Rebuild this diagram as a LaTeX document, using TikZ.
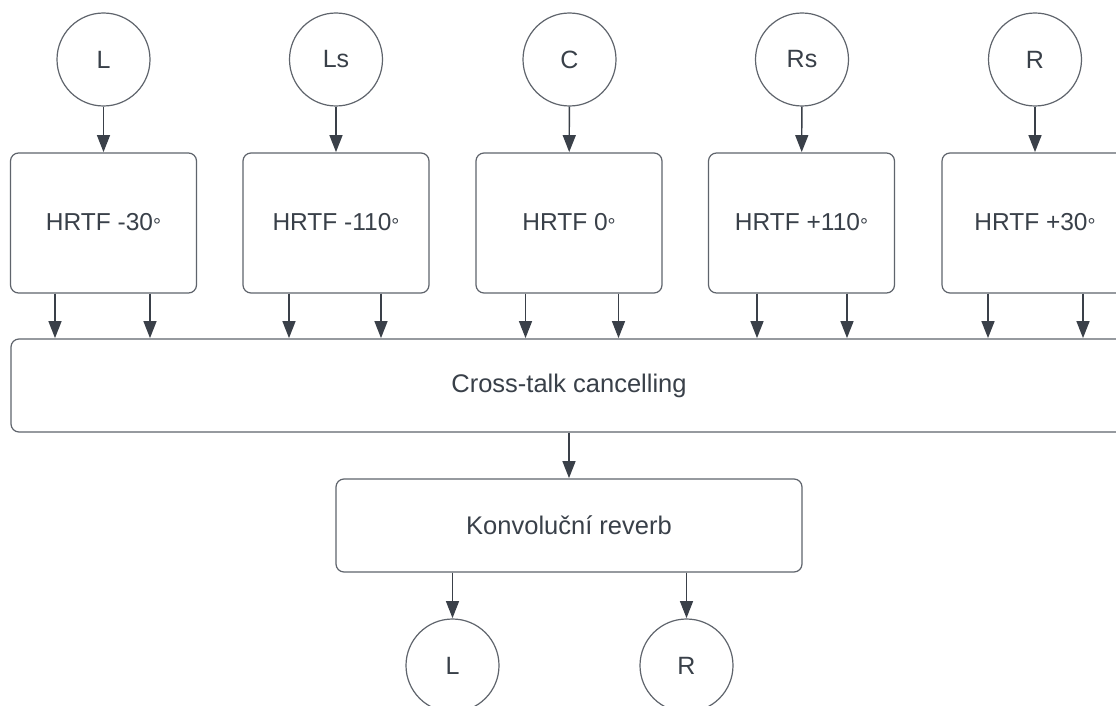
\documentclass[tikz,border=0pt]{standalone}
\usepackage{fontspec}
\setmainfont{Liberation Sans}
\usetikzlibrary{arrows.meta}
\definecolor{linec}{HTML}{5F646C}
\definecolor{arrc}{HTML}{3A4049}
\definecolor{txtc}{HTML}{394049}
\newcommand{\dg}{{\fontsize{20}{20}\selectfont\raisebox{-1.8pt}{°}}}
\begin{document}
\begin{tikzpicture}[x=1pt,y=-1pt,
  lbl/.style={text=txtc,font=\fontsize{25}{30}\selectfont},
  spk/.style={lbl,draw=linec,line width=1.2pt,circle,minimum size=93pt,inner sep=0pt},
  hbox/.style={lbl,font=\fontsize{24.5}{30}\selectfont,draw=linec,line width=1.2pt,rounded corners=8pt,minimum width=186pt,minimum height=140pt,inner sep=0pt},
  wbox/.style={lbl,font=\fontsize{25.5}{30}\selectfont,draw=linec,line width=1.2pt,rounded corners=8pt,minimum height=93pt,inner sep=0pt},
  arr/.style={draw=arrc,line width=1.4pt,-{Triangle[length=17pt,width=13pt]},fill=arrc,shorten >=0.3pt}]
\useasboundingbox (0,0) rectangle (1116,706);
\fill[white] (0,0) rectangle (1116,706);
% speakers
\node[spk] (cL)  at (103.5,59.5) {L};
\node[spk] (cLs) at (336,59.5) {Ls};
\node[spk] (cC)  at (569.5,59.5) {C};
\node[spk] (cRs) at (802,59.5) {Rs};
\node[spk] (cR)  at (1035,59.5) {R};
% HRTF boxes
\node[hbox] (hL)  at (103.5,223) {HRTF -30\dg};
\node[hbox] (hLs) at (336,223) {HRTF -110\dg};
\node[hbox] (hC)  at (569,223) {HRTF 0\dg};
\node[hbox] (hRs) at (801.5,223) {HRTF +110\dg};
\node[hbox] (hR)  at (1035,223) {HRTF +30\dg};
% cross-talk
\node[wbox,minimum width=1116pt] (ct) at (569,385.5) {Cross-talk cancelling};
% reverb
\node[wbox,minimum width=466pt] (rv) at (569,525.5) {Konvoluční reverb};
% outputs
\node[spk] (oL) at (452.5,665.5) {L};
\node[spk] (oR) at (686.5,665.5) {R};
% arrows speakers -> HRTF
\foreach \n in {L,Ls,C,Rs,R}{\draw[arr] (c\n) -- (h\n);}
% arrows HRTF -> cross-talk
\draw[arr] ([xshift=-48.5pt]hL.south) -- ([xshift=-48.5pt]hL.south |- ct.north);
\draw[arr] ([xshift=46.5pt]hL.south) -- ([xshift=46.5pt]hL.south |- ct.north);
\draw[arr] ([xshift=-47pt]hLs.south) -- ([xshift=-47pt]hLs.south |- ct.north);
\draw[arr] ([xshift=45pt]hLs.south) -- ([xshift=45pt]hLs.south |- ct.north);
\draw[arr] ([xshift=-43.5pt]hC.south) -- ([xshift=-43.5pt]hC.south |- ct.north);
\draw[arr] ([xshift=49.5pt]hC.south) -- ([xshift=49.5pt]hC.south |- ct.north);
\draw[arr] ([xshift=-44.5pt]hRs.south) -- ([xshift=-44.5pt]hRs.south |- ct.north);
\draw[arr] ([xshift=45.5pt]hRs.south) -- ([xshift=45.5pt]hRs.south |- ct.north);
\draw[arr] ([xshift=-47pt]hR.south) -- ([xshift=-47pt]hR.south |- ct.north);
\draw[arr] ([xshift=48pt]hR.south) -- ([xshift=48pt]hR.south |- ct.north);
% cross-talk -> reverb
\draw[arr] (ct.south) -- (rv.north);
% reverb -> outputs
\draw[arr] (rv.south -| oL) -- (oL);
\draw[arr] (rv.south -| oR) -- (oR);
\end{tikzpicture}
\end{document}
